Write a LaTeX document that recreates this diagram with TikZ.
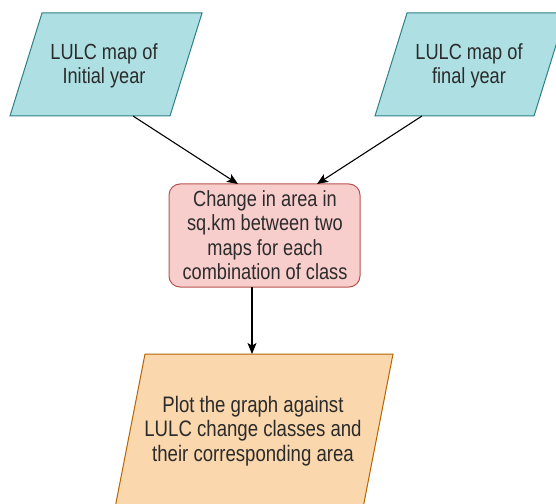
\documentclass[tikz,border=0pt]{standalone}
\usepackage{fontspec}
\setmainfont[FakeStretch=0.83]{Liberation Sans}
\usetikzlibrary{arrows.meta}
\definecolor{tealfill}{HTML}{AEE0E3}
\definecolor{tealline}{HTML}{2E7F86}
\definecolor{redfill}{HTML}{F8CECC}
\definecolor{redline}{HTML}{B85450}
\definecolor{orfill}{HTML}{FAD7AC}
\definecolor{orline}{HTML}{B46504}
\definecolor{txtcol}{HTML}{2B2B2B}
\tikzset{
  inshape/.style={fill=tealfill, draw=tealline, line width=1bp, line join=miter},
  chgshape/.style={fill=redfill, draw=redline, line width=1bp, rounded corners=11bp},
  outshape/.style={fill=orfill, draw=orline, line width=1bp},
  label text/.style={text=txtcol, align=center, inner sep=0pt,
    font=\fontsize{22}{24.5}\selectfont},
  arr/.style={draw=black, line width=1.1bp, -{Stealth[length=11bp, width=9bp, inset=2.5bp]}}
}
\begin{document}
\begin{tikzpicture}[x=1bp, y=-1bp]
\useasboundingbox (0,0) rectangle (556,504);
\clip (0,0) rectangle (556,504);
% shapes
\path[inshape] (42,13) -- (202,13) -- (170,116) -- (10,116) -- cycle;
\path[inshape] (407,13) -- (566,13) -- (534,116) -- (375,116) -- cycle;
\path[chgshape] (169,184) rectangle (360,287);
\path[outshape] (145,354) -- (393,354) -- (363,508) -- (115,508) -- cycle;
% texts
\node[label text] (initial) at (104,66) {LULC map of\\Initial year};
\node[label text] (final) at (469,66) {LULC map of\\final year};
\node[label text] (change) at (265,235) {Change in area in\\sq.km between two\\maps for each\\combination of class};
\node[label text, font=\fontsize{22.5}{24.5}\selectfont] (plot) at (253,431) {Plot the graph against\\LULC change classes and\\their corresponding area};
% connector ends
\coordinate (initial out) at (133,116);
\coordinate (final out) at (422,116);
\coordinate (change in a) at (238,184);
\coordinate (change in b) at (317,184);
\coordinate (change out) at (252,287);
\coordinate (plot in) at (252,354);
% connectors
\draw[arr] (initial out) -- (change in a);
\draw[arr] (final out) -- (change in b);
\draw[arr] (change out) -- (plot in);
\end{tikzpicture}
\end{document}
